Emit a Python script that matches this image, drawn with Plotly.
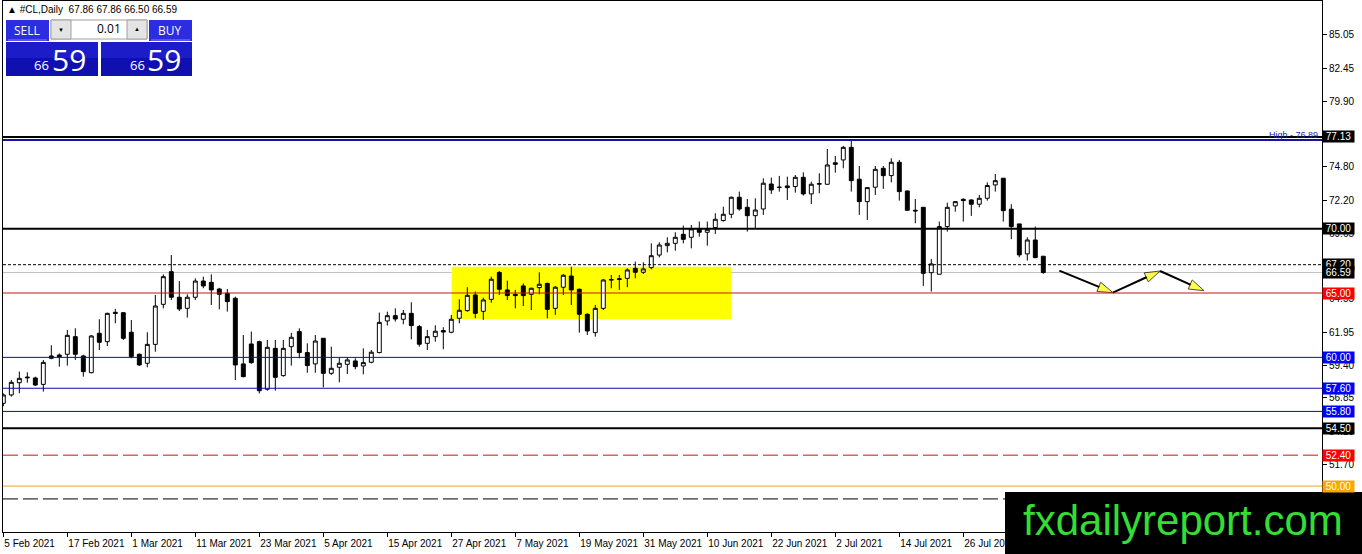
import plotly.graph_objects as go

# daily bars, 5 Feb 2021 .. 9 Aug 2021
opens = [56.43, 57.08, 58.03, 58.47, 58.40, 57.90, 60.11, 60.18, 60.24, 61.61,
         60.11, 58.81, 61.87, 61.22, 63.50, 63.47, 61.95, 60.24, 59.54, 61.01,
         64.12, 66.66, 64.67, 63.81, 64.67, 65.93, 65.83, 65.31, 64.98, 64.59,
         59.49, 61.04, 61.22, 57.52, 60.70, 58.58, 60.83, 62.00, 60.37, 59.49,
         61.48, 58.76, 59.23, 59.46, 59.72, 59.33, 59.62, 60.37, 62.83, 63.24,
         62.96, 63.42, 62.39, 61.09, 61.61, 62.08, 61.95, 63.04, 63.63, 64.85,
         63.58, 64.51, 66.60, 65.24, 64.90, 65.55, 64.90, 65.42, 65.75, 63.81,
         65.45, 66.32, 65.29, 63.35, 61.92, 63.81, 66.00, 66.05, 66.14, 66.92,
         66.61, 66.97, 67.95, 68.68, 68.86, 69.56, 69.33, 69.98, 69.72, 70.08,
         70.63, 71.12, 72.44, 71.66, 71.01, 71.53, 73.47, 73.20, 73.32, 73.27,
         73.99, 72.70, 73.45, 73.45, 75.12, 75.34, 76.32, 73.84, 72.10, 73.22,
         74.69, 74.12, 75.16, 72.93, 71.43, 71.66, 66.58, 66.46, 70.16, 71.77,
         72.28, 72.23, 71.90, 72.36, 73.40, 73.92, 71.51, 70.37, 68.04, 69.12,
         67.86]
highs = [57.20, 58.24, 58.89, 58.84, 58.50, 59.80, 60.94, 60.31, 62.13, 62.26,
         60.20, 61.74, 62.96, 63.47, 63.76, 63.50, 62.90, 60.30, 61.95, 64.85,
         66.45, 67.95, 65.93, 64.90, 66.14, 66.27, 66.45, 65.40, 65.31, 64.72,
         61.74, 62.00, 61.30, 61.35, 61.35, 61.35, 61.90, 62.26, 61.09, 61.74,
         61.50, 60.83, 60.01, 60.01, 59.93, 60.70, 60.57, 63.48, 63.55, 63.81,
         63.68, 64.28, 62.52, 62.13, 62.49, 62.34, 63.30, 64.51, 65.45, 65.11,
         64.64, 66.27, 66.71, 65.96, 65.24, 65.75, 65.42, 66.61, 65.80, 65.55,
         66.48, 67.05, 65.35, 63.42, 64.07, 66.09, 66.40, 66.40, 66.92, 67.44,
         67.39, 68.86, 68.94, 69.33, 69.72, 70.24, 70.29, 70.55, 70.55, 71.20,
         71.71, 72.50, 72.88, 72.31, 72.36, 73.91, 73.97, 74.10, 74.04, 74.17,
         74.38, 73.65, 74.30, 76.19, 75.65, 76.43, 76.89, 74.87, 73.22, 74.87,
         74.87, 75.47, 75.34, 72.95, 72.31, 71.66, 67.65, 70.55, 72.02, 72.12,
         72.36, 72.28, 72.62, 73.60, 74.25, 73.92, 71.90, 70.37, 69.33, 70.16,
         67.86]
lows = [56.20, 56.95, 57.21, 58.03, 57.78, 57.34, 59.85, 59.28, 59.36, 59.80,
        58.50, 58.76, 60.57, 60.88, 62.65, 61.35, 59.93, 59.33, 59.23, 60.44,
        63.81, 64.46, 63.60, 63.09, 64.46, 65.37, 64.07, 63.73, 63.55, 58.24,
        58.45, 59.50, 57.20, 57.41, 57.41, 58.50, 59.36, 59.93, 58.80, 58.80,
        57.67, 58.63, 58.06, 58.71, 59.07, 58.68, 59.54, 60.32, 62.47, 62.78,
        62.57, 61.40, 60.83, 60.57, 61.22, 60.63, 61.87, 62.65, 63.55, 63.04,
        62.91, 64.25, 64.85, 64.46, 63.81, 63.99, 63.68, 64.90, 63.04, 63.30,
        64.85, 64.07, 61.92, 61.74, 61.61, 63.68, 65.37, 65.24, 65.45, 66.14,
        66.48, 66.84, 67.77, 68.16, 68.29, 68.86, 68.47, 69.38, 68.68, 69.59,
        70.55, 70.81, 71.40, 69.77, 70.03, 71.07, 72.70, 72.88, 72.23, 72.80,
        72.57, 71.92, 72.75, 73.40, 74.35, 74.69, 72.88, 71.07, 70.68, 72.62,
        73.09, 73.60, 72.18, 71.40, 70.42, 65.55, 65.11, 66.46, 69.77, 71.32,
        70.55, 70.99, 71.66, 72.18, 72.88, 70.55, 69.18, 67.78, 67.52, 67.70,
        66.50]
closes = [57.08, 58.06, 58.37, 58.42, 57.85, 59.61, 59.93, 60.06, 61.71, 60.24,
          58.89, 61.66, 61.17, 63.42, 63.42, 61.48, 60.06, 59.41, 61.01, 63.99,
          66.27, 64.67, 63.76, 64.67, 65.93, 65.55, 65.24, 64.90, 64.33, 59.41,
          58.50, 59.59, 57.41, 60.78, 58.45, 60.70, 61.56, 60.37, 59.36, 61.27,
          58.76, 59.15, 59.54, 59.80, 59.28, 59.59, 60.40, 62.72, 63.24, 62.98,
          63.42, 62.47, 61.02, 61.61, 62.03, 61.97, 62.96, 63.66, 64.82, 63.42,
          64.46, 66.07, 65.29, 64.80, 64.80, 64.80, 65.37, 65.68, 63.73, 65.45,
          66.38, 65.24, 63.35, 62.05, 63.81, 66.01, 66.05, 66.10, 66.79, 66.61,
          66.87, 67.90, 68.73, 68.86, 69.33, 69.17, 69.98, 69.72, 69.95, 70.73,
          71.12, 72.44, 71.53, 71.01, 71.45, 73.53, 73.01, 73.22, 73.19, 73.99,
          72.70, 73.45, 73.50, 74.95, 75.00, 76.32, 73.73, 72.10, 73.19, 74.61,
          74.12, 75.16, 72.88, 71.43, 71.38, 66.53, 67.26, 70.16, 71.66, 72.10,
          72.18, 71.90, 72.36, 73.35, 73.73, 71.40, 70.16, 67.96, 69.12, 67.75,
          66.59]

date_labels = ["5 Feb 2021", "17 Feb 2021", "1 Mar 2021", "11 Mar 2021", "23 Mar 2021",
               "5 Apr 2021", "15 Apr 2021", "27 Apr 2021", "7 May 2021", "19 May 2021",
               "31 May 2021", "10 Jun 2021", "22 Jun 2021", "2 Jul 2021", "14 Jul 2021",
               "26 Jul 2021"]
label_bars = [0, 8, 16, 24, 32, 40, 48, 56, 64, 72, 80, 88, 96, 104, 112, 120]

# price scale ticks that show (others are hidden under the level labels)
price_ticks = [85.05, 82.45, 79.90, 74.80, 72.20, 69.65, 64.55,
               61.95, 59.40, 56.85, 54.25, 51.70]

# horizontal levels drawn on the chart
level_prices = [77.13, 76.89, 70.00, 67.20, 66.59, 65.00, 60.00, 57.60, 55.80,
                54.50, 52.40, 50.00, 49.00]
high_price = 76.89

# yellow range box: first bar, last bar, bottom, top
zone_bars = [56.05, 90.96]
zone_prices = [62.98, 67.05]

# projected path (arrows)
path_bars = [132.0, 138.7, 144.6, 150.1]
path_prices = [66.74, 65.03, 66.71, 65.18]

header = "#CL,Daily  67.86 67.86 66.50 66.59"

# ---- styles ----
level_style = {
    77.13: dict(color="black", width=2, dash="solid", bg="black"),
    76.89: dict(color="#1414A0", width=2, dash="solid", bg=None),
    70.00: dict(color="black", width=2, dash="solid", bg="black"),
    67.20: dict(color="black", width=1, dash="3px,2px", bg="black"),
    66.59: dict(color="#C0C0C0", width=1, dash="solid", bg="black"),
    65.00: dict(color="#D01010", width=1, dash="solid", bg="#FF0000"),
    60.00: dict(color="#0A0AA8", width=1, dash="solid", bg="#0000FF"),
    57.60: dict(color="#0A0AA8", width=1, dash="solid", bg="#0000FF"),
    55.80: dict(color="#0A0AA8", width=1, dash="solid", bg="#0000FF"),
    54.50: dict(color="black", width=2, dash="solid", bg="black"),
    52.40: dict(color="#D01010", width=1, dash="15px,5px", bg="#FF0000"),
    50.00: dict(color="#F0A020", width=1, dash="solid", bg="#FFA500"),
    49.00: dict(color="black", width=1, dash="15px,5px", bg=None),
}

W, H = 1362, 554
L, R, T, B = 3, 40, 1, 22


def px(x):
    return (x - L) / (W - L - R)


def py(y):
    return 1 - (y - T) / (H - T - B)


fig = go.Figure()

fig.add_trace(go.Candlestick(
    x=list(range(len(opens))),
    open=opens, high=highs, low=lows, close=closes,
    increasing=dict(line=dict(color="black", width=1), fillcolor="white"),
    decreasing=dict(line=dict(color="black", width=1), fillcolor="black"),
    whiskerwidth=0,
    hoverinfo="skip",
))

fig.add_trace(go.Scatter(
    x=path_bars, y=path_prices,
    mode="lines+markers",
    line=dict(color="black", width=2),
    marker=dict(symbol="arrow", size=[0, 16, 16, 16], angleref="previous",
                color="#FFFF00", line=dict(color="black", width=1)),
    hoverinfo="skip",
))

shapes = []
annotations = []

shapes.append(dict(type="rect", xref="x", yref="y", layer="below",
                   x0=zone_bars[0], x1=zone_bars[1], y0=zone_prices[0], y1=zone_prices[1],
                   fillcolor="#FFFF00", line=dict(width=0)))

for p in level_prices:
    st = level_style[p]
    shapes.append(dict(type="line", xref="paper", yref="y", x0=0, x1=1, y0=p, y1=p,
                       layer="below" if p == 66.59 else "above",
                       line=dict(color=st["color"], width=st["width"], dash=st["dash"])))
    if st["bg"]:
        annotations.append(dict(xref="paper", yref="y", x=1, y=p, xanchor="left",
                                yanchor="middle", xshift=0, text="%.2f" % p,
                                width=31, height=11, align="center", valign="middle",
                                showarrow=False, bgcolor=st["bg"], borderpad=0,
                                font=dict(color="white", size=10, family="Liberation Sans")))

annotations.append(dict(xref="paper", yref="y", x=1, y=high_price, xanchor="right",
                        yanchor="bottom", xshift=-2, yshift=-2, showarrow=False,
                        text="High - %.2f" % high_price,
                        font=dict(color="#2020C0", size=9, family="Liberation Sans")))

# one click trading panel
def rect(x0, y0, x1, y1, fill, line=None):
    shapes.append(dict(type="rect", xref="paper", yref="paper",
                       x0=px(x0), x1=px(x1), y0=py(y0), y1=py(y1), layer="above",
                       fillcolor=fill,
                       line=dict(color=line or fill, width=1 if line else 0)))


def text(x, y, s, size, color="white", anchor="center"):
    annotations.append(dict(xref="paper", yref="paper", x=px(x), y=py(y), text=s,
                            xanchor=anchor, yanchor="middle", showarrow=False,
                            font=dict(color=color, size=size, family="Open Sans")))


rect(6, 20, 49, 41, "#2C2CE0")
rect(149, 20, 192, 41, "#2C2CE0")
rect(51, 20, 147, 39, "white", "#A0A0A0")
rect(51, 20, 71, 39, "#E4E4E4", "#A0A0A0")
rect(127, 20, 147, 39, "#E4E4E4", "#A0A0A0")
rect(6, 42, 98, 76, "#1010B0")
rect(101, 42, 192, 76, "#1010B0")
rect(6, 42, 98, 58, "#1C1CC8")
rect(101, 42, 192, 58, "#1C1CC8")
shapes.append(dict(type="line", xref="paper", yref="paper", x0=px(8), x1=px(47),
                   y0=py(40), y1=py(40), layer="above", line=dict(color="#8080F0", width=1)))
shapes.append(dict(type="line", xref="paper", yref="paper", x0=px(151), x1=px(190),
                   y0=py(40), y1=py(40), layer="above", line=dict(color="#8080F0", width=1)))

text(27, 30, "SELL", 12)
text(170, 30, "BUY", 12)
text(123, 29, "0.01", 12, "black", "right")
text(61, 30, "▼", 6, "black")
text(137, 29, "▲", 6, "black")
text(41, 65, "66", 13)
text(69, 59, "59", 30)
text(137, 65, "66", 13)
text(164, 59, "59", 30)
text(5, 9, "▲ " + header, 10, "black", "left")
annotations[-1]["font"]["family"] = "Liberation Sans"

# watermark
rect(1005, 492, 1364, 556, "black")
text(1183, 520, "fxdailyreport.com", 42, "#33DD33")
annotations[-1]["font"]["family"] = "Liberation Sans"

fig.update_layout(
    width=W, height=H,
    margin=dict(l=L, r=R, t=T, b=B, pad=0, autoexpand=False),
    paper_bgcolor="white", plot_bgcolor="white",
    showlegend=False,
    font=dict(family="Liberation Sans", size=10, color="black"),
    shapes=shapes,
    annotations=annotations,
    xaxis=dict(range=[-0.04, 164.84], rangeslider=dict(visible=False),
               tickvals=label_bars, ticktext=date_labels, tickangle=0,
               ticklabelposition="outside right", automargin=False,
               ticklabelstandoff=2,
               ticks="outside", ticklen=4, tickcolor="black",
               showgrid=False, zeroline=False,
               showline=True, linecolor="black", linewidth=1, mirror=True,
               fixedrange=True),
    yaxis=dict(range=[46.43, 87.69], side="right", automargin=False,
               tickvals=price_ticks, tickformat=".2f",
               ticks="outside", ticklen=4, tickcolor="black",
               showgrid=False, zeroline=False,
               showline=True, linecolor="black", linewidth=1, mirror=True,
               fixedrange=True),
)

fig.write_html("out.html", config={"displayModeBar": False},
               post_script="document.body.style.margin='0';")
